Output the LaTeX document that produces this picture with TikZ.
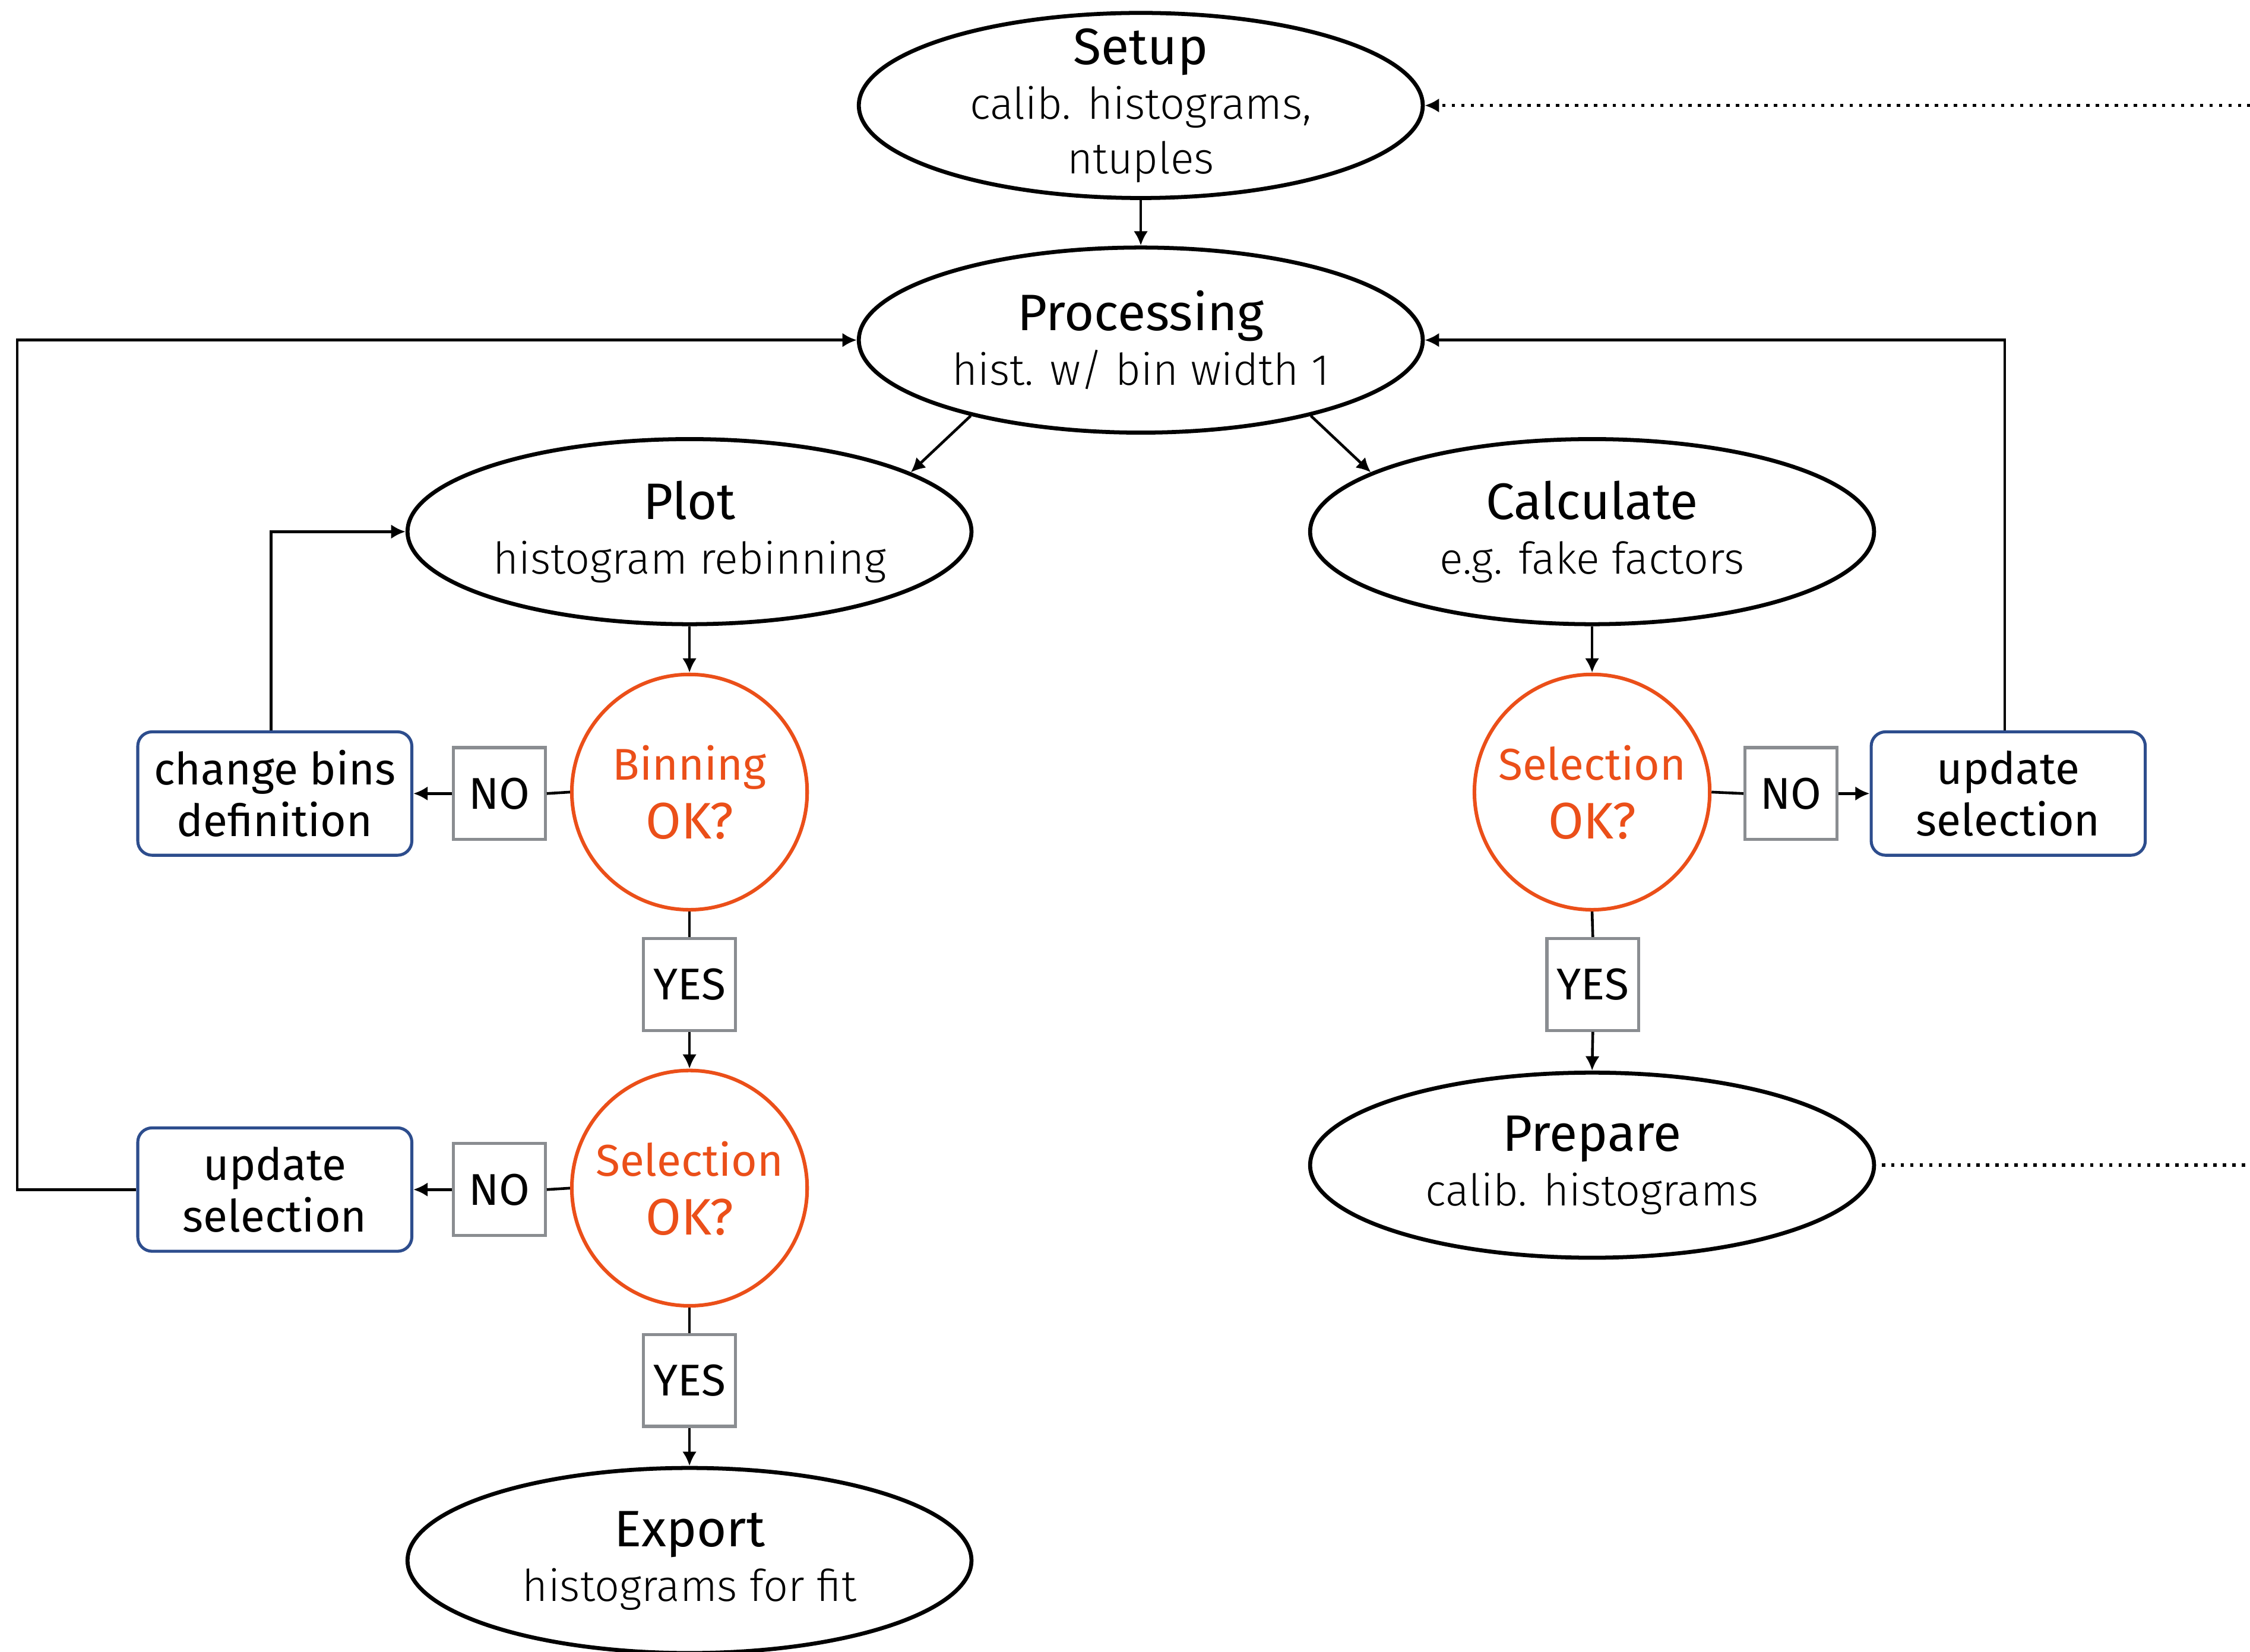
\documentclass[tikz,border=0pt]{standalone}
\usepackage{fontspec}
\setmainfont{Fira Sans}
\newfontfamily\lightfont{Fira Sans Light}
\usetikzlibrary{shapes.geometric,arrows.meta}
\definecolor{orng}{HTML}{EB4F19}
\definecolor{navy}{HTML}{2D4D8D}
\definecolor{grayb}{HTML}{8A8D91}
\newcommand\stitle[1]{{\normalfont\fontsize{35.7}{38}\selectfont #1}}
\begin{document}
\begin{tikzpicture}[x=1pt,y=-1pt,
 stage/.style={ellipse, draw, line width=2.8pt, minimum width=393pt, minimum height=129pt, inner sep=0pt, align=center, font=\lightfont\fontsize{30.5}{38}\selectfont},
 decision/.style={circle, draw=orng, line width=2.5pt, minimum size=164pt, inner sep=0pt, align=center, text=orng, font=\fontsize{31}{41}\selectfont},
 actbox/.style={rectangle, rounded corners=10pt, draw=navy, line width=2.1pt, minimum width=191pt, minimum height=86pt, inner sep=0pt, align=center, font=\fontsize{31}{36}\selectfont},
 answer/.style={rectangle, draw=grayb, line width=2.1pt, minimum width=64pt, minimum height=64pt, inner sep=0pt, font=\fontsize{31}{34}\selectfont},
 conn/.style={line width=1.9pt},
 arr/.style={conn, -{Latex[length=10pt,width=10pt]}},
 dots/.style={line width=2.3pt, dash pattern=on 2.3pt off 4.3pt},
]
\useasboundingbox (0,0) rectangle (1568,1151);

\node[stage, inner ysep=-14pt] (setup) at (795,73.5) {\stitle{Setup}\\calib. histograms,\\ntuples};
\node[stage] (proc) at (795,237) {\stitle{Processing}\\hist. w/ bin width 1};
\node[stage] (plot) at (480.5,370.5) {\stitle{Plot}\\histogram rebinning};
\node[stage] (calc) at (1109.5,370.5) {\stitle{Calculate}\\e.g. fake factors};
\node[stage] (prep) at (1109.5,812) {\stitle{Prepare}\\calib. histograms};
\node[stage] (export) at (480.5,1087.5) {\stitle{Export}\\histograms for fit};

\node[decision] (bin) at (480.5,552) {Binning\\{\fontsize{35.8}{41}\selectfont OK?}};
\node[decision] (sel2) at (1109.5,552) {Selection\\{\fontsize{35.8}{41}\selectfont OK?}};
\node[decision] (sel1) at (480.5,828) {Selection\\{\fontsize{35.8}{41}\selectfont OK?}};

\node[actbox] (chg) at (191.5,553) {change bins\\definition};
\node[actbox] (upd1) at (191.5,829) {update\\selection};
\node[actbox] (upd2) at (1399.5,553) {update\\selection};

\node[answer] (no1) at (348,553) {NO};
\node[answer] (no2) at (348,829) {NO};
\node[answer] (no3) at (1248,553) {NO};
\node[answer] (yes1) at (480.5,686) {YES};
\node[answer] (yes2) at (480.5,962) {YES};
\node[answer] (yes3) at (1110,686) {YES};

\coordinate (offtop) at (1575,73.5);
\coordinate (offbot) at (1575,812);

\draw[arr] (setup) -- (proc);
\draw[arr] (proc.204) -- (plot.15);
\draw[arr] (proc.336) -- (calc.165);
\draw[arr] (plot) -- (bin);
\draw[arr] (calc) -- (sel2);

\draw[conn] (bin.west) -- (no1.east);
\draw[arr] (no1.west) -- (chg.east);
\draw[arr] ([xshift=-2.5pt]chg.north) |- (plot.west);
\draw[conn] (bin.south) -- (yes1.north);
\draw[arr] (yes1.south) -- (sel1.north);

\draw[conn] (sel1.west) -- (no2.east);
\draw[arr] (no2.west) -- (upd1.east);
\draw[arr] (upd1.west) -- ++(-83,0) |- (proc.west);
\draw[conn] (sel1.south) -- (yes2.north);
\draw[arr] (yes2.south) -- (export.north);

\draw[conn] (sel2.east) -- (no3.west);
\draw[arr] (no3.east) -- (upd2.west);
\draw[arr] ([xshift=-2.5pt]upd2.north) |- (proc.east);
\draw[conn] (sel2.south) -- (yes3.north);
\draw[arr] (yes3.south) -- (prep.north);

\draw[dots, -{Latex[length=10pt,width=10pt]}] (offtop) -- (setup.east);
\draw[dots] ([xshift=4pt]prep.east) -- (offbot);
\end{tikzpicture}
\end{document}
